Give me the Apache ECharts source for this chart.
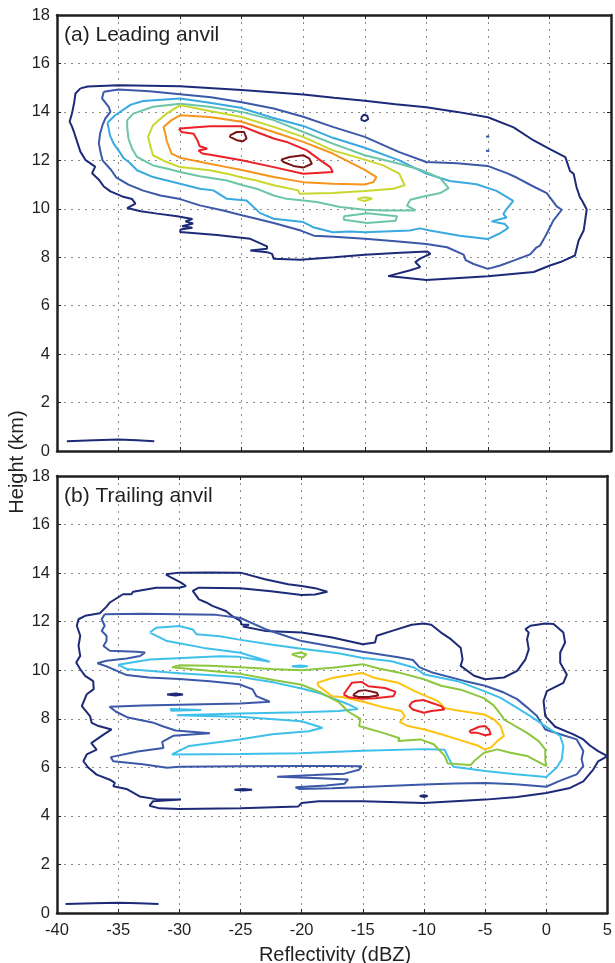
<!DOCTYPE html>
<html>
<head>
<meta charset="utf-8">
<script src="https://cdn.jsdelivr.net/npm/echarts@6/dist/echarts.min.js"></script>
<style>
  html, body { margin: 0; padding: 0; background: #fff; }
  #main { width: 615px; height: 963px; }
</style>
</head>
<body>
<div id="main"></div>
<script>
// axis ticks
var xTicks = [-40, -35, -30, -25, -20, -15, -10, -5, 0, 5];
var yTicks = [0, 2, 4, 6, 8, 10, 12, 14, 16, 18];

// ---------- (a) Leading anvil : contour lines [dBZ, km] ----------
var aLevel1 = [[-38.1,14.97],[-37.5,15.05],[-35,15.1],[-30,15.06],[-25,14.9],[-20,14.72],[-17.5,14.58],[-15,14.46],[-12.5,14.32],[-10,14.19],[-7.5,14.0],[-5,13.78],[-2.91,13.36],[-1.28,12.82],[0,12.47],[1.29,12.13],[1.67,11.56],[1.97,11.44],[2.2,10.89],[2.48,10.47],[2.65,10.34],[3.03,9.97],[2.78,9.1],[2.37,8.69],[2.07,8.07],[0.89,7.8],[0.04,7.66],[-1.28,7.39],[-5,7.21],[-10,7.06],[-13.1,7.22],[-13.2,7.3],[-11.3,7.46],[-10.49,7.59],[-10.9,7.8],[-10.5,7.94],[-9.67,8.14],[-9.94,8.24],[-12.5,8.17],[-15,8.1],[-17.5,8.0],[-20.24,7.9],[-22.4,7.94],[-22.53,8.14],[-22.94,8.21],[-24.3,8.28],[-22.94,8.35],[-22.94,8.45],[-24.3,8.76],[-27,8.92],[-30,9.04],[-29.97,9.14],[-29.0,9.22],[-29.84,9.28],[-28.94,9.39],[-29.57,9.48],[-29.0,9.58],[-30.24,9.69],[-31.87,9.8],[-33.2,9.9],[-34.3,10.03],[-33.63,10.21],[-33.9,10.4],[-34.7,10.51],[-35.66,10.72],[-36.2,10.92],[-36.6,11.2],[-37.15,11.47],[-36.9,11.74],[-37.7,12.02],[-38.1,12.36],[-38.32,12.7],[-38.59,13.12],[-38.78,13.39],[-38.97,13.6],[-38.78,13.94],[-38.6,14.4],[-38.5,14.76]];
var aLevel1Ring = [[-15.3,13.75],[-15.1,13.88],[-14.8,13.84],[-14.72,13.7],[-15.0,13.62],[-15.25,13.66]];
var aLevel1Base = [[-39.2,0.4],[-37,0.44],[-35,0.47],[-33.5,0.44],[-32.1,0.4]];
var aLevel2 = [[-36.2,14.83],[-35,14.92],[-32.5,14.85],[-30,14.73],[-27.5,14.6],[-25.1,14.41],[-22.4,14.14],[-20,13.8],[-17.6,13.38],[-15,12.97],[-12.2,12.34],[-10,11.93],[-7.51,11.88],[-5.03,11.77],[-3.46,11.47],[-2.67,11.29],[-1.3,10.92],[-0.22,10.65],[0.04,10.47],[0.59,10.1],[1.0,9.96],[0.31,9.51],[-0.23,8.96],[-0.76,8.48],[-1.04,8.41],[-1.57,8.12],[-2.92,7.86],[-4.0,7.66],[-5.0,7.52],[-6.16,7.72],[-6.8,7.88],[-6.97,8.11],[-8.32,8.41],[-10,8.55],[-12.5,8.66],[-15,8.76],[-17.5,8.85],[-19.14,8.89],[-20.2,9.1],[-22.4,9.41],[-23.8,9.59],[-24.9,9.72],[-26.5,9.93],[-28.4,10.14],[-30,10.4],[-31.6,10.55],[-33.0,10.75],[-34.2,11.0],[-35.2,11.3],[-35.6,11.6],[-36.3,12.0],[-36.45,12.3],[-36.6,12.7],[-36.5,13.1],[-36.3,13.46],[-36.07,13.73],[-35.66,14.0],[-35.8,14.21],[-36.34,14.56]];
var aLevel2Dot1 = [[-5.15,12.98],[-5.0,13.04],[-4.88,12.97],[-5.02,12.91]];
var aLevel2Dot2 = [[-5.15,12.4],[-5.0,12.45],[-4.88,12.39],[-5.02,12.34]];
var aLevel3 = [[-35.9,13.55],[-35.3,13.85],[-34.0,14.3],[-33.0,14.45],[-30,14.55],[-27.6,14.38],[-25.1,14.17],[-22.5,13.76],[-20,13.42],[-17.6,12.93],[-15,12.52],[-12.2,12.0],[-10,11.45],[-8.09,11.15],[-5.92,11.01],[-4.3,10.74],[-2.94,10.33],[-3.48,9.99],[-3.75,9.78],[-3.48,9.64],[-4.7,9.48],[-3.62,9.37],[-3.35,9.21],[-4.0,8.99],[-5.03,8.75],[-7.28,8.89],[-9.72,9.1],[-10.53,9.19],[-11.34,9.1],[-15,9.03],[-16.2,9.06],[-17.6,9.03],[-19.2,9.24],[-20,9.45],[-22.4,9.59],[-23.5,9.82],[-24.6,10.34],[-26.2,10.41],[-27.3,10.76],[-28.4,10.83],[-30,11.03],[-32.2,11.31],[-33.5,11.59],[-34.1,11.9],[-34.6,12.1],[-35.0,12.41],[-35.4,12.69],[-35.7,13.03],[-35.8,13.31]];
var aLevel4 = [[-34.3,13.66],[-33.8,13.93],[-32.2,14.21],[-30,14.34],[-27.6,14.21],[-25,14.0],[-22.4,13.66],[-20,13.17],[-17.6,12.69],[-15,12.21],[-12.2,11.86],[-10.49,11.61],[-8.86,11.26],[-8.19,10.85],[-8.86,10.65],[-10.22,10.51],[-11.3,10.37],[-11.57,10.13],[-10.9,9.93],[-13.5,9.93],[-15,9.96],[-17.0,10.07],[-18.9,10.28],[-20,10.34],[-21.35,10.41],[-22.4,10.55],[-23.8,10.83],[-24.9,10.97],[-26.2,11.17],[-28.4,11.34],[-30,11.52],[-31.1,11.66],[-32.2,11.79],[-33.5,12.14],[-33.9,12.48],[-34.2,12.9],[-34.3,13.38]];
var aLevel4Loop = [[-16.7,9.69],[-14.8,9.82],[-12.38,9.69],[-12.5,9.51],[-14.8,9.41],[-16.7,9.55]];
var aLevel5 = [[-32.4,12.55],[-32.6,12.97],[-32.2,13.45],[-31.1,13.93],[-30,14.28],[-27.6,14.04],[-25,13.79],[-22.4,13.38],[-20,12.97],[-17.6,12.41],[-15,12.03],[-13.5,11.79],[-12.2,11.45],[-11.76,10.97],[-12.7,10.83],[-15,10.73],[-17.6,10.65],[-20.3,10.62],[-20.4,10.76],[-22.4,10.97],[-23.8,11.17],[-24.9,11.28],[-26.2,11.45],[-27.6,11.59],[-30,11.72],[-31.1,11.93],[-32.2,12.21]];
var aLevel5Loop = [[-15.6,10.4],[-15,10.48],[-14.4,10.42],[-15,10.32]];
var aLevel6 = [[-30.9,12.55],[-31.1,12.83],[-31.2,13.1],[-31.35,13.38],[-30.7,13.66],[-30,13.86],[-27.6,13.79],[-25,13.59],[-22.4,13.17],[-20,12.76],[-17.6,12.28],[-15,11.61],[-14.05,11.31],[-14.3,11.1],[-15,11.0],[-17.6,11.03],[-20,11.1],[-22.4,11.31],[-24.9,11.59],[-26.2,11.72],[-27.6,11.86],[-30,12.11],[-30.7,12.28]];
var aLevel7 = [[-30.1,13.31],[-29.9,13.17],[-28.9,13.1],[-28.6,12.83],[-28.4,12.58],[-27.8,12.48],[-28.5,12.41],[-28.2,12.28],[-27.3,12.21],[-25,12.0],[-22.4,11.72],[-20,11.45],[-17.6,11.52],[-17.8,11.72],[-18.6,12.0],[-19.7,12.41],[-21.35,12.76],[-22.4,12.9],[-23.8,13.17],[-25,13.41],[-27.6,13.41],[-30,13.31]];
var aLevel8A = [[-25.95,13.03],[-25.4,13.17],[-24.8,13.17],[-24.6,12.9],[-24.9,12.79],[-25.4,12.83],[-25.95,12.97]];
var aLevel8B = [[-21.8,12.03],[-21.1,12.14],[-20,12.21],[-19.5,12.07],[-19.3,11.86],[-20,11.7],[-20.8,11.77],[-21.6,11.93]];

// ---------- (b) Trailing anvil ----------
var bLevel1 = [[-31.1,13.95],[-30,14.02],[-27.5,14.03],[-25,14.02],[-23,13.75],[-21.1,13.54],[-20,13.47],[-18.9,13.38],[-17.9,13.23],[-18.9,13.12],[-20,13.1],[-22.5,13.25],[-25,13.38],[-28.4,13.4],[-28.9,13.27],[-28.6,13.06],[-28.4,12.92],[-27.8,12.79],[-27.3,12.65],[-26.2,12.44],[-25.7,12.24],[-25,12.03],[-24.9,11.88],[-24.3,11.87],[-24.8,11.8],[-23,11.62],[-20,11.55],[-17.5,11.35],[-15,11.07],[-14,11.14],[-13.86,11.42],[-12.6,11.62],[-11.0,11.87],[-10,11.92],[-9.4,11.87],[-8.6,11.55],[-7.8,11.28],[-7.0,10.93],[-6.84,10.45],[-7.0,10.18],[-5.9,9.77],[-5,9.63],[-3.46,9.7],[-2.38,9.97],[-1.7,10.45],[-1.43,10.86],[-1.57,11.28],[-1.43,11.55],[-1.7,11.69],[-1.3,11.83],[-0.08,11.92],[0.6,11.9],[1.4,11.55],[1.54,11.14],[1.14,10.73],[1.14,10.31],[1.68,9.82],[1.4,9.48],[0.05,9.14],[-0.22,8.73],[-0.08,8.11],[0.73,7.67],[2.22,7.36],[3.03,7.15],[3.57,6.9],[4.24,6.67],[5.0,6.46],[4.24,6.25],[3.84,5.91],[3.03,5.42],[1.95,5.15],[0,4.94],[-2.38,4.78],[-5,4.67],[-7.5,4.6],[-10,4.53],[-15,4.6],[-18.6,4.6],[-20,4.53],[-20.27,4.39],[-25,4.31],[-30,4.28],[-31.62,4.31],[-32.43,4.42],[-32.16,4.6],[-29.86,4.67],[-31.9,4.69],[-33.24,4.8],[-34.32,5.11],[-35.4,5.22],[-35.27,5.36],[-35.68,5.49],[-36.76,5.7],[-37.43,5.98],[-37.84,6.25],[-37.57,6.53],[-36.76,6.73],[-37.2,7.0],[-36.2,7.35],[-35.54,7.56],[-36.6,7.7],[-37.16,7.83],[-37.3,8.11],[-37.97,8.52],[-37.57,9.01],[-37.0,9.22],[-37.04,9.55],[-37.7,9.77],[-38.1,10.04],[-38.43,10.32],[-38.1,10.59],[-38.24,11.0],[-38.1,11.42],[-38.38,11.83],[-38.24,12.1],[-37.7,12.24],[-36.5,12.35],[-35.95,12.62],[-35.68,12.79],[-34.6,13.13],[-33.92,13.13],[-33.78,13.23],[-31.9,13.4],[-30,13.4],[-29.46,13.47],[-29.86,13.61],[-30.68,13.82]];
var bLevel1Hole1 = [[-31.0,9.0],[-30.3,9.04],[-29.7,9.0],[-30.3,8.96]];
var bLevel1Hole2 = [[-25.5,5.08],[-24.8,5.11],[-24.05,5.08],[-24.8,5.05]];
var bLevel1Hole3 = [[-10.35,4.82],[-10.0,4.85],[-9.7,4.82],[-10.0,4.78]];
var bLevel1Base = [[-39.3,0.37],[-37,0.4],[-35,0.42],[-33.3,0.4],[-31.7,0.37]];
var bLevel2 = [[-36.1,12.31],[-33,12.33],[-30,12.31],[-27,12.28],[-25,12.15],[-23,11.7],[-21.1,11.38],[-20,11.2],[-17.5,10.98],[-15,10.76],[-12.1,10.53],[-10.9,10.42],[-10.35,10.12],[-9.4,9.92],[-6.7,9.56],[-5,9.36],[-3.46,9.08],[-2.38,8.81],[-1.57,8.47],[-0.76,8.11],[-0.08,7.56],[1.14,7.36],[2.49,7.15],[3.03,6.67],[2.89,6.33],[3.03,6.05],[2.49,5.71],[1.14,5.45],[0,5.2],[-2.5,5.3],[-5,5.35],[-7.5,5.33],[-10,5.29],[-12.5,5.24],[-15,5.19],[-17.5,5.14],[-20.2,5.11],[-20.5,5.18],[-18,5.25],[-16.5,5.32],[-16.2,5.5],[-19,5.56],[-22,5.61],[-19,5.68],[-16.5,5.74],[-15.3,5.9],[-15.1,6.04],[-17.5,6.05],[-20,6.06],[-25,6.04],[-30,6.02],[-31,5.98],[-33,6.13],[-35.4,6.25],[-35.6,6.42],[-33.4,6.65],[-31.3,6.8],[-31.4,7.05],[-30.5,7.3],[-27.5,7.4],[-30.3,7.52],[-31.3,7.68],[-32.2,7.85],[-34.2,8.05],[-35.2,8.3],[-35.7,8.5],[-33,8.55],[-30,8.58],[-25,8.63],[-22.6,8.7],[-23.7,8.93],[-24.0,9.21],[-25.1,9.42],[-27.5,9.55],[-30,9.64],[-32.5,9.7],[-34.3,9.8],[-35.95,10.16],[-36.7,10.29],[-35.95,10.39],[-34.3,10.48],[-33.2,10.59],[-32.8,10.73],[-33.5,10.76],[-35.68,10.8],[-36.2,11.0],[-35.95,11.21],[-35.95,11.42],[-36.35,11.62],[-36.1,11.83],[-36.35,12.1]];
var bLevel3 = [[-32.4,11.55],[-31.9,11.75],[-30,11.82],[-28.9,11.68],[-28.6,11.48],[-26.7,11.4],[-25.1,11.26],[-22.4,11.05],[-20,10.88],[-17,10.7],[-15.1,10.51],[-12.65,10.37],[-10.76,10.1],[-9.95,9.82],[-7.24,9.55],[-5.08,9.14],[-3.73,8.86],[-2.38,8.45],[-1.3,8.11],[-0.08,7.7],[1.14,7.29],[1.4,6.88],[1.27,6.33],[0.86,5.99],[0,5.6],[-2.5,5.72],[-5,5.85],[-7.6,6.02],[-8.0,6.4],[-8.3,6.72],[-10,6.75],[-15,6.68],[-20.2,6.58],[-25,6.55],[-30.6,6.53],[-29.2,6.88],[-25.1,7.15],[-22.4,7.36],[-19.4,7.49],[-18.3,7.63],[-20,7.9],[-25.1,8.08],[-30.2,8.15],[-25.1,8.22],[-20,8.27],[-17,8.32],[-15.4,8.4],[-16.2,8.6],[-17.2,8.8],[-18.5,9.05],[-20,9.25],[-22.3,9.5],[-25,9.72],[-30,9.88],[-34.3,10.05],[-35,10.23],[-32.4,10.44],[-26.7,10.58],[-25.1,10.55],[-22.6,10.35],[-25,10.72],[-28,10.92],[-31,11.2]];
var bLevel3Bit1 = [[-30.7,8.33],[-28.2,8.36],[-30.7,8.4]];
var bLevel3Bit2 = [[-20.8,10.16],[-20.1,10.19],[-19.5,10.16],[-20.1,10.13]];
var bLevel4 = [[-30.6,10.12],[-30,10.2],[-27.5,10.18],[-25,10.12],[-22.5,10.05],[-20,10.0],[-17.5,10.1],[-15,10.25],[-13.7,10.07],[-12.1,9.91],[-10,9.63],[-8.6,9.36],[-7,9.2],[-5.1,8.85],[-4.3,8.55],[-3.6,8.1],[-3.46,7.97],[-1.57,7.42],[-0.62,7.08],[-0.08,6.74],[-0.08,6.33],[0,6.05],[-1.57,6.47],[-2.92,6.6],[-4.0,6.74],[-5.08,6.6],[-5.9,6.26],[-6.16,6.1],[-8.05,6.16],[-8.3,6.47],[-9.2,6.95],[-10.3,7.15],[-12.1,7.08],[-12.0,7.2],[-13.2,7.4],[-15.3,7.7],[-15.2,8.0],[-16.2,8.3],[-17,8.7],[-17.8,8.9],[-18.5,9.1],[-20,9.4],[-22.3,9.6],[-25,9.85],[-28,10.0]];
var bLevel4Loop = [[-20.8,10.66],[-20.1,10.73],[-19.6,10.66],[-19.9,10.52],[-20.3,10.56]];
var bLevel5 = [[-18.73,9.48],[-17.5,9.68],[-15.1,9.89],[-14.0,9.68],[-12.1,9.48],[-10.76,9.14],[-8.86,8.73],[-8.32,8.45],[-7.5,8.36],[-5.08,8.18],[-4.27,7.97],[-3.73,7.7],[-3.46,7.29],[-4.0,7.08],[-4.54,6.81],[-5.08,6.74],[-5.62,6.9],[-7.24,7.15],[-8.59,7.36],[-9.95,7.56],[-11.3,7.7],[-11.97,7.86],[-11.57,8.11],[-11.84,8.32],[-13.46,8.49],[-14.8,8.68],[-16.7,8.9],[-17.5,8.93],[-18.6,9.34]];
var bLevel6A = [[-16.57,9.0],[-15.9,9.48],[-15.1,9.52],[-14.54,9.34],[-13.19,9.27],[-12.32,9.11],[-12.5,8.93],[-14.0,8.85],[-15.1,8.82],[-16.16,8.89]];
var bLevel6B = [[-11.03,8.66],[-10.76,8.73],[-10,8.77],[-9.4,8.66],[-8.59,8.52],[-8.32,8.38],[-9.4,8.32],[-10,8.25],[-10.92,8.38],[-11.19,8.52]];
var bLevel6C = [[-6.3,7.49],[-5.49,7.67],[-5.0,7.7],[-4.68,7.56],[-4.54,7.36],[-5.0,7.32],[-5.62,7.42],[-6.16,7.42]];
var bLevel7 = [[-15.76,9.0],[-15.35,9.14],[-14.8,9.18],[-13.86,9.07],[-13.73,8.96],[-14.54,8.9],[-15.35,8.9],[-15.76,8.96]];

// level colours (jet-like)
var coloursA = ['#1d2a78', '#3c58a8', '#39a9e0', '#6cc6a6', '#c8d72e', '#f7941d', '#ec2127', '#7b1518'];
var coloursB = ['#1d2a78', '#3c58a8', '#3fc0ea', '#8cc63f', '#fec20f', '#ec2127', '#7b1518'];

// [level, points, closed]
var piecesA = [
  [1, aLevel1, true], [1, aLevel1Ring, true], [1, aLevel1Base, false],
  [2, aLevel2, true], [2, aLevel2Dot1, true], [2, aLevel2Dot2, true],
  [3, aLevel3, true], [4, aLevel4, true], [4, aLevel4Loop, true],
  [5, aLevel5, true], [5, aLevel5Loop, true], [6, aLevel6, true],
  [7, aLevel7, true], [8, aLevel8A, true], [8, aLevel8B, true]
];
var piecesB = [
  [1, bLevel1, true], [1, bLevel1Hole1, true], [1, bLevel1Hole2, true], [1, bLevel1Hole3, true], [1, bLevel1Base, false],
  [2, bLevel2, true], [3, bLevel3, true], [3, bLevel3Bit1, true], [3, bLevel3Bit2, true],
  [4, bLevel4, true], [4, bLevel4Loop, true], [5, bLevel5, true],
  [6, bLevel6A, true], [6, bLevel6B, true], [6, bLevel6C, true], [7, bLevel7, true]
];

var font = 'Liberation Sans, Arial, Helvetica, sans-serif';
var frameColor = '#231f20';

function makeX(gridIndex, pos, labels) {
  return {
    type: 'value', gridIndex: gridIndex, position: pos,
    min: xTicks[0], max: xTicks[xTicks.length - 1], interval: 5,
    axisLine: { show: true, onZero: false, lineStyle: { color: frameColor, width: 2.5 } },
    axisTick: { show: true, inside: true, length: 4, lineStyle: { color: frameColor } },
    axisLabel: { show: labels, color: '#231f20', fontSize: 16.5, fontFamily: font, margin: 9 },
    splitLine: { show: pos === 'bottom', lineStyle: { color: '#8c8c8c', type: [2, 5], width: 1 } }
  };
}
function makeY(gridIndex, pos) {
  return {
    type: 'value', gridIndex: gridIndex, position: pos,
    min: yTicks[0], max: yTicks[yTicks.length - 1], interval: 2,
    axisLine: { show: true, onZero: false, lineStyle: { color: frameColor, width: 2.5 } },
    axisTick: { show: true, inside: true, length: 4, lineStyle: { color: frameColor } },
    axisLabel: { show: pos === 'left', color: '#231f20', fontSize: 16.5, fontFamily: font, margin: 7 },
    splitLine: { show: pos === 'left', lineStyle: { color: '#8c8c8c', type: [2, 5], width: 1 } }
  };
}

var series = [];
function addPieces(pieces, axisIdx, colours) {
  pieces.forEach(function (p) {
    var pts = p[1];
    var data = p[2] ? pts.concat([pts[0]]) : pts;
    series.push({
      type: 'line', xAxisIndex: axisIdx, yAxisIndex: axisIdx,
      data: data, showSymbol: false, symbol: 'none', silent: true,
      lineStyle: { color: colours[p[0] - 1], width: 2 },
      z: 2 + p[0]
    });
  });
}
addPieces(piecesA, 0, coloursA);
addPieces(piecesB, 2, coloursB);

var myChart = echarts.init(document.getElementById('main'), null, { renderer: 'canvas' });
var option = {
  animation: false,
  backgroundColor: '#ffffff',
  grid: [
    { left: 57, top: 15, width: 554, height: 436 },
    { left: 57, top: 476, width: 554, height: 437 }
  ],
  xAxis: [makeX(0, 'bottom', false), makeX(0, 'top', false), makeX(1, 'bottom', true), makeX(1, 'top', false)],
  yAxis: [makeY(0, 'left'), makeY(0, 'right'), makeY(1, 'left'), makeY(1, 'right')],
  graphic: [
    { type: 'text', x: 64, y: 35,
      style: { text: '(a) Leading anvil', font: '21px ' + font, fill: '#231f20', textAlign: 'left', textVerticalAlign: 'middle' } },
    { type: 'text', x: 64, y: 496,
      style: { text: '(b) Trailing anvil', font: '21px ' + font, fill: '#231f20', textAlign: 'left', textVerticalAlign: 'middle' } },
    { type: 'text', x: 17, y: 462, rotation: Math.PI / 2,
      style: { text: 'Height (km)', font: '20px ' + font, fill: '#231f20', textAlign: 'center', textVerticalAlign: 'middle' } },
    { type: 'text', x: 335, y: 955,
      style: { text: 'Reflectivity (dBZ)', font: '20px ' + font, fill: '#231f20', textAlign: 'center', textVerticalAlign: 'middle' } }
  ],
  series: series
};
myChart.setOption(option);
</script>
</body>
</html>
